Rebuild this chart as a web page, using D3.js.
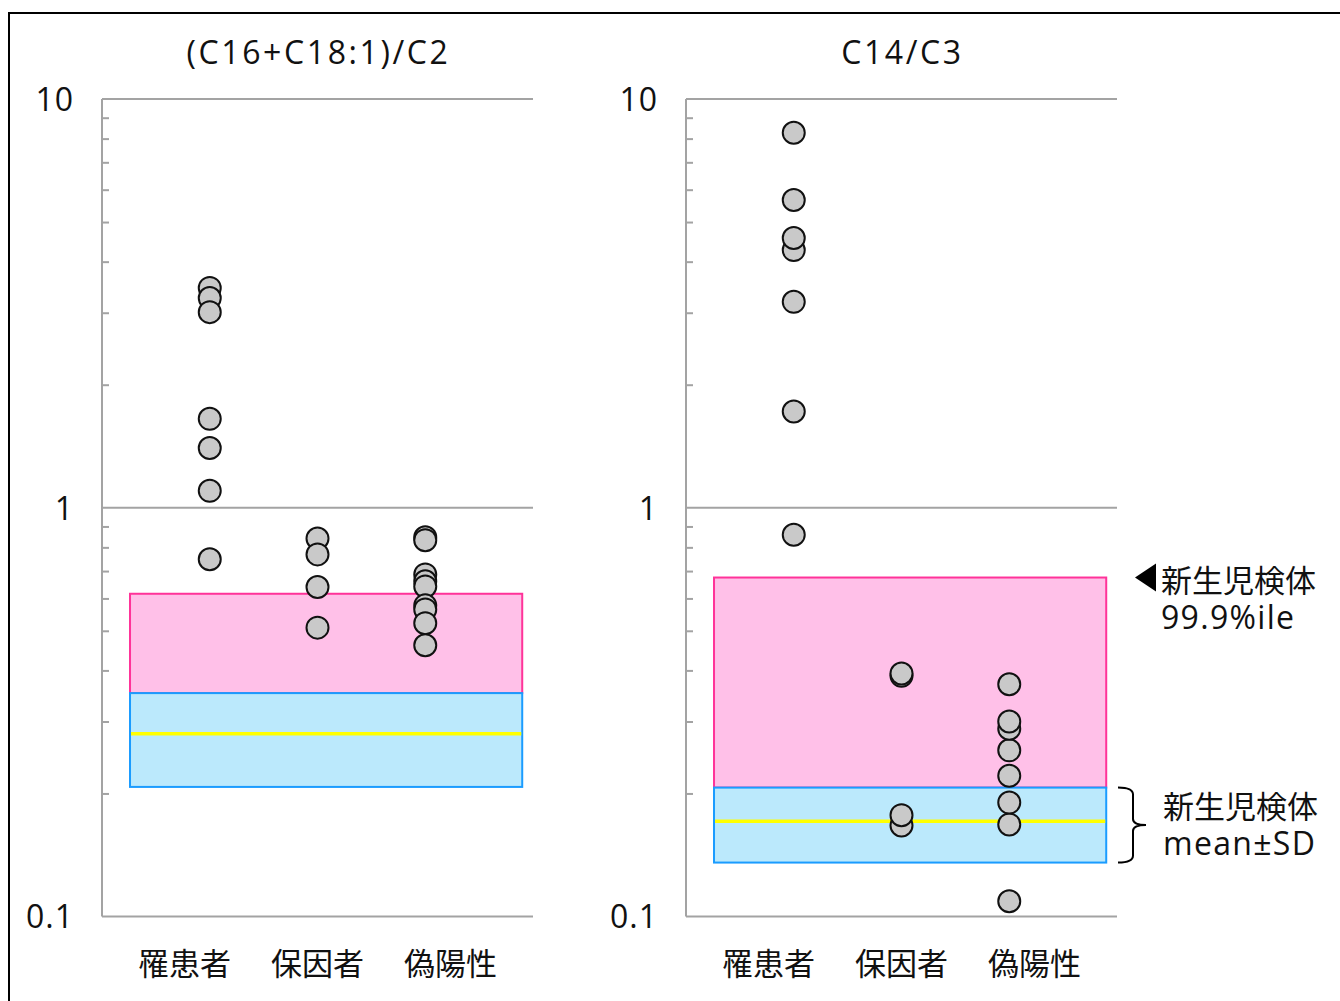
<!DOCTYPE html>
<html lang="ja">
<head>
<meta charset="utf-8">
<title>(C16+C18:1)/C2 と C14/C3</title>
<script src="https://cdn.jsdelivr.net/npm/d3@7"></script>
<style>
  html, body { margin: 0; padding: 0; background: #fff; }
  svg { display: block; }
  text { font-family: "Open Sans", "Noto Sans CJK JP", sans-serif; fill: #111; }
  .cjk { font-family: "Noto Sans CJK JP", sans-serif; }
</style>
</head>
<body>
<svg id="chart" width="1340" height="1001"></svg>
<script>
// Groups along the x axis
const categories = ["罹患者", "保因者", "偽陽性"];

// Panel titles
const panelTitles = ["(C16+C18:1)/C2", "C14/C3"];

// Y-axis tick labels (log scale)
const majorTicks = [0.1, 1, 10];
const majorTickLabels = ["0.1", "1", "10"];

// (C16+C18:1)/C2 values per group
const ratioA_affected = [3.45, 3.26, 3.01, 1.65, 1.40, 1.10, 0.748];
const ratioA_carrier  = [0.841, 0.769, 0.640, 0.509];
const ratioA_falsePos = [0.847, 0.833, 0.687, 0.661, 0.642, 0.577, 0.564, 0.522, 0.461];

// C14/C3 values per group
const ratioB_affected = [0.859, 1.72, 3.19, 4.27, 4.57, 5.66, 8.27];
const ratioB_carrier  = [0.167, 0.177, 0.388, 0.393];
const ratioB_falsePos = [0.109, 0.168, 0.190, 0.221, 0.255, 0.288, 0.300, 0.370];

// Newborn reference: 99.9th percentile, mean, mean-SD, mean+SD
const ratioA_ref = { p999: 0.616, mean: 0.280, sdLow: 0.2075, sdHigh: 0.352 };
const ratioB_ref = { p999: 0.675, mean: 0.171, sdLow: 0.1355, sdHigh: 0.2067 };

// Annotation text
const noteP999 = ["新生児検体", "99.9%ile"];
const noteMeanSD = ["新生児検体", "mean±SD"];

const panels = [
  { title: panelTitles[0], groups: [ratioA_affected, ratioA_carrier, ratioA_falsePos], ref: ratioA_ref, x0: 102, x1: 533 },
  { title: panelTitles[1], groups: [ratioB_affected, ratioB_carrier, ratioB_falsePos], ref: ratioB_ref, x0: 686, x1: 1117 }
];

const svg = d3.select("#chart");
const FONT = 31;
const AXIS_COLOR = "#a3a3a3";

// outer frame
svg.append("rect")
  .attr("x", 9).attr("y", 13)
  .attr("width", 1345).attr("height", 1000)
  .attr("fill", "none").attr("stroke", "#000").attr("stroke-width", 2);

const y = d3.scaleLog().domain([0.1, 10]).range([916.5, 99]);

// minor ticks 0.2..0.9, 2..9
const minorTicks = [];
[0.1, 1].forEach(d => { for (let k = 2; k <= 9; k++) minorTicks.push(+(d * k).toFixed(2)); });

panels.forEach(p => {
  const g = svg.append("g");
  // positions 0..4; groups sit at 1,2,3
  const xPos = d3.scaleLinear().domain([0, 4]).range([p.x0, p.x1]);
  const xCat = d3.scalePoint().domain(categories).range([p.x0, p.x1]).padding(1);
  const mid = (p.x0 + p.x1) / 2;
  const xLabel = d3.scalePoint().domain(categories).range([mid - 133, mid + 133]);

  // title
  g.append("text")
    .attr("x", mid + 1).attr("y", 64)
    .attr("text-anchor", "middle")
    .attr("font-size", 32)
    .attr("letter-spacing", 2.6)
    .text(p.title);

  // reference bands
  const r = p.ref;
  const bx0 = xPos(0.26), bx1 = xPos(3.9);
  g.append("rect")
    .attr("x", bx0).attr("width", bx1 - bx0)
    .attr("y", y(r.p999)).attr("height", y(r.sdHigh) - y(r.p999))
    .attr("fill", "#ffc0e8").attr("stroke", "#ff3399").attr("stroke-width", 2);
  g.append("rect")
    .attr("x", bx0).attr("width", bx1 - bx0)
    .attr("y", y(r.sdHigh)).attr("height", y(r.sdLow) - y(r.sdHigh))
    .attr("fill", "#bbe9fc").attr("stroke", "#1a9cff").attr("stroke-width", 2);
  g.append("line")
    .attr("x1", bx0 + 1).attr("x2", bx1 - 1)
    .attr("y1", y(r.mean)).attr("y2", y(r.mean))
    .attr("stroke", "#ffff00").attr("stroke-width", 3.5);

  // minor ticks (inside)
  const minorAxis = d3.axisRight(y).tickValues(minorTicks).tickSize(7).tickFormat("");
  const ma = g.append("g").attr("transform", `translate(${p.x0},0)`).call(minorAxis);
  ma.select(".domain").remove();
  ma.selectAll("line").attr("stroke", AXIS_COLOR).attr("stroke-width", 2);

  // major gridlines
  g.selectAll("line.major").data(majorTicks).join("line")
    .attr("class", "major")
    .attr("x1", p.x0).attr("x2", p.x1)
    .attr("y1", d => y(d)).attr("y2", d => y(d))
    .attr("stroke", AXIS_COLOR).attr("stroke-width", 2);

  // vertical axis line
  g.append("line")
    .attr("x1", p.x0).attr("x2", p.x0)
    .attr("y1", y(10)).attr("y2", y(0.1))
    .attr("stroke", AXIS_COLOR).attr("stroke-width", 2);

  // tick labels
  g.selectAll("text.ytick").data(majorTicks).join("text")
    .attr("class", "ytick")
    .attr("x", p.x0 - 28).attr("y", d => y(d))
    .attr("dy", "0.37em")
    .attr("text-anchor", "end")
    .attr("font-size", 32)
    .attr("letter-spacing", 1)
    .text((d, i) => majorTickLabels[i]);

  // category labels
  g.selectAll("text.cat").data(categories).join("text")
    .attr("class", "cat cjk")
    .attr("x", d => xLabel(d)).attr("y", 975)
    .attr("text-anchor", "middle")
    .attr("font-size", FONT)
    .text(d => d);

  // points
  p.groups.forEach((vals, gi) => {
    g.append("g").selectAll("circle").data(vals).join("circle")
      .attr("cx", xCat(categories[gi]))
      .attr("cy", d => y(d))
      .attr("r", 11)
      .attr("fill", "#c9c9c9")
      .attr("stroke", "#111")
      .attr("stroke-width", 2);
  });
});

// annotations beside the right panel
const refB = ratioB_ref;
const tipY = y(refB.p999);
svg.append("path")
  .attr("d", `M1135,${tipY} L1156,${tipY - 14} L1156,${tipY + 14} Z`)
  .attr("fill", "#000");

function twoLineNote(x, yFirst, lines) {
  const t = svg.append("text")
    .attr("x", x).attr("y", yFirst)
    .attr("font-size", FONT);
  t.append("tspan").attr("class", "cjk").attr("x", x).text(lines[0]);
  t.append("tspan").attr("x", x).attr("dy", 37)
    .attr("font-size", 32).attr("letter-spacing", 1.3).text(lines[1]);
}
twoLineNote(1161, tipY + 14, noteP999);

const bTop = y(refB.sdHigh), bBot = y(refB.sdLow), bMid = (bTop + bBot) / 2;
svg.append("path")
  .attr("d", `M1118,${bTop} Q1133,${bTop} 1133,${bTop + 7} L1133,${bMid - 6} Q1133,${bMid} 1146,${bMid} ` +
             `Q1133,${bMid} 1133,${bMid + 6} L1133,${bBot - 7} Q1133,${bBot} 1118,${bBot}`)
  .attr("fill", "none").attr("stroke", "#000").attr("stroke-width", 2);
twoLineNote(1163, bTop + 30, noteMeanSD);
</script>
</body>
</html>
